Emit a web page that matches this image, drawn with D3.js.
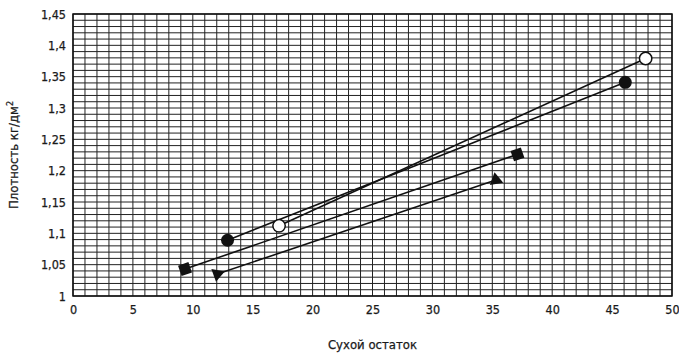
<!DOCTYPE html>
<html>
<head>
<meta charset="utf-8">
<script src="https://cdn.jsdelivr.net/npm/d3@7"></script>
<style>
  body { margin: 0; background: #fff; }
  svg { display: block; }
  text { font-family: "Liberation Sans Narrow", "DejaVu Sans Condensed", sans-serif; font-stretch: condensed; fill: #1a1a1a; }
</style>
</head>
<body>
<script>
// Series endpoints
let circleX = [12.9, 46.1];
let circleY = [1.089, 1.341];
let openX = [17.2, 47.8];
let openY = [1.112, 1.379];
let squareX = [9.35, 37.1];
let squareY = [1.043, 1.226];
let triangleX = [12.05, 35.3];
let triangleY = [1.035, 1.185];

let xTicks = [0, 5, 10, 15, 20, 25, 30, 35, 40, 45, 50];
let yTicks = [1, 1.05, 1.1, 1.15, 1.2, 1.25, 1.3, 1.35, 1.4, 1.45];

let xTitle = "Сухой остаток";
let yTitle = "Плотность кг/дм";

// margin convention
let margin = { top: 14, right: 7, bottom: 58, left: 73 };
let W = 679, H = 354;
let width = W - margin.left - margin.right;
let height = H - margin.top - margin.bottom;

let x = d3.scaleLinear([0, 50], [0, width]);
let y = d3.scaleLinear([1, 1.45], [height, 0]);

let svg = d3.select("body").append("svg")
    .attr("width", W)
    .attr("height", H);

let g = svg.append("g")
    .attr("transform", `translate(${margin.left}, ${margin.top})`);

// Grid: every unit on x, every 0.01 on y
g.append("g")
    .selectAll("line")
    .data(d3.range(0, 51))
    .join("line")
    .attr("x1", d => x(d)).attr("x2", d => x(d))
    .attr("y1", 0).attr("y2", height)
    .attr("stroke", "#222")
    .attr("stroke-width", 1);

g.append("g")
    .selectAll("line")
    .data(d3.range(0, 46).map(i => 1 + i * 0.01))
    .join("line")
    .attr("x1", 0).attr("x2", width)
    .attr("y1", d => y(d)).attr("y2", d => y(d))
    .attr("stroke", "#222")
    .attr("stroke-width", 1);

// frame
g.append("rect")
    .attr("width", width)
    .attr("height", height)
    .attr("fill", "none")
    .attr("stroke", "#111")
    .attr("stroke-width", 1.5);

// Axes (labels only)
let fmt = d => String(d).replace(".", ",");

let xAxis = g.append("g")
    .attr("transform", `translate(0, ${height})`)
    .call(d3.axisBottom(x).tickValues(xTicks).tickFormat(d => d).tickSize(0).tickPadding(9));
let yAxis = g.append("g")
    .call(d3.axisLeft(y).tickValues(yTicks).tickFormat(fmt).tickSize(0).tickPadding(7));

[xAxis, yAxis].forEach(a => {
    a.select(".domain").remove();
    a.selectAll("text")
        .style("font-family", '"Liberation Sans Narrow", "DejaVu Sans Condensed", sans-serif')
        .style("font-size", "12.5px")
        .attr("fill", "#1a1a1a")
        .attr("stroke", "#1a1a1a")
        .attr("stroke-width", 0.25);
});

// Series lines
let series = [
    { xs: circleX, ys: circleY, type: "dot" },
    { xs: openX, ys: openY, type: "open" },
    { xs: squareX, ys: squareY, type: "square" },
    { xs: triangleX, ys: triangleY, type: "triangle" },
];

let line = d3.line().x(d => x(d[0])).y(d => y(d[1]));

g.append("g")
    .selectAll("path")
    .data(series)
    .join("path")
    .attr("d", s => line(d3.zip(s.xs, s.ys)))
    .attr("fill", "none")
    .attr("stroke", "#111")
    .attr("stroke-width", 1.6);

// Markers
let marks = g.append("g");
series.forEach(s => {
    let pts = d3.zip(s.xs, s.ys);
    let angle = Math.atan2(y(s.ys[1]) - y(s.ys[0]), x(s.xs[1]) - x(s.xs[0])) * 180 / Math.PI;
    pts.forEach((p, i) => {
        let px = x(p[0]), py = y(p[1]);
        if (s.type === "dot") {
            marks.append("circle").attr("cx", px).attr("cy", py).attr("r", 6.5).attr("fill", "#111");
        } else if (s.type === "open") {
            marks.append("circle").attr("cx", px).attr("cy", py).attr("r", 6.2)
                .attr("fill", "#fff").attr("stroke", "#111").attr("stroke-width", 1.5);
        } else if (s.type === "square") {
            marks.append("path")
                .attr("d", d3.symbol(d3.symbolSquare, 120)())
                .attr("transform", `translate(${px},${py}) rotate(${angle})`)
                .attr("fill", "#111");
        } else {
            // down triangle at the start, up triangle at the end, both tilted a little
            let rot = i === 0 ? 190 : -10;
            marks.append("path")
                .attr("d", d3.symbol(d3.symbolTriangle, 80)())
                .attr("transform", `translate(${px},${py}) rotate(${rot})`)
                .attr("fill", "#111");
        }
    });
});

// Axis titles
svg.append("text")
    .attr("x", margin.left + width / 2)
    .attr("y", 349)
    .attr("text-anchor", "middle")
    .style("font-size", "13px")
    .attr("stroke", "#1a1a1a")
    .attr("stroke-width", 0.25)
    .text(xTitle);

let yt = svg.append("text")
    .attr("transform", `translate(18, ${margin.top + height / 2}) rotate(-90)`)
    .attr("text-anchor", "middle")
    .attr("stroke", "#1a1a1a")
    .attr("stroke-width", 0.25)
    .style("font-size", "13px");
yt.append("tspan").text(yTitle);
yt.append("tspan").attr("dy", -5).style("font-size", "9px").text("2");
</script>
</body>
</html>
